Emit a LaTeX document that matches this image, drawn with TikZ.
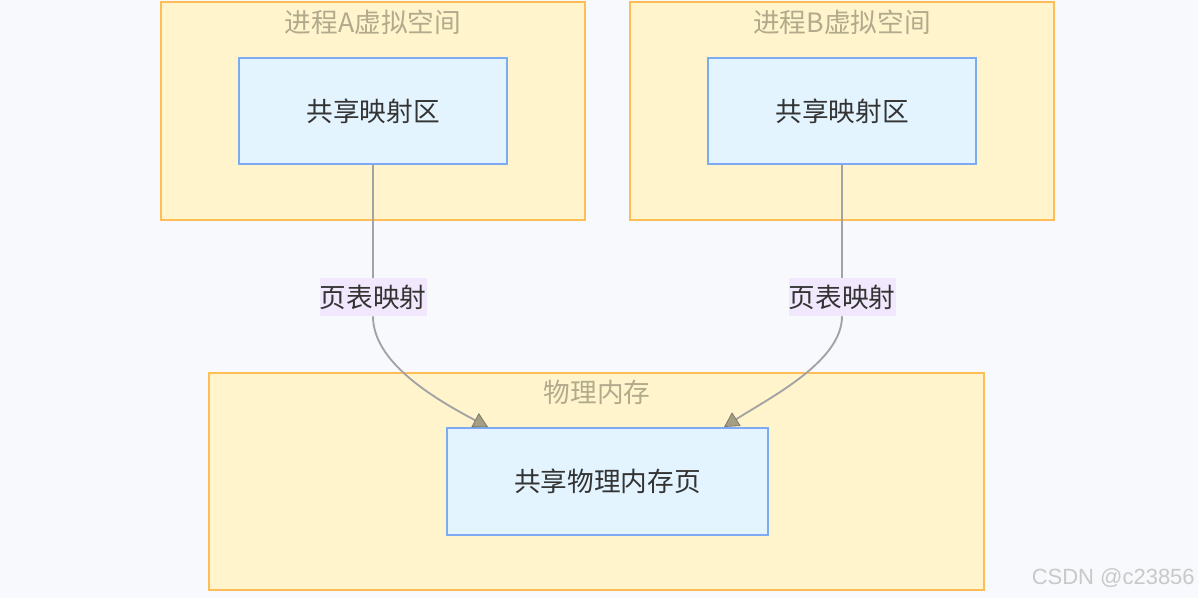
\documentclass[tikz,border=0pt]{standalone}
\usepackage{fontspec}
\setmainfont{Noto Sans CJK SC}
\newfontfamily\wmfont{Liberation Sans}
\usetikzlibrary{arrows.meta,calc}
\definecolor{bgc}{HTML}{F8F9FC}
\definecolor{clfill}{HTML}{FFF4CC}
\definecolor{cldraw}{HTML}{FFBE55}
\definecolor{boxfill}{HTML}{E3F4FF}
\definecolor{boxdraw}{HTML}{7DAAF2}
\definecolor{titlec}{HTML}{B2AA8C}
\definecolor{txtc}{HTML}{333333}
\definecolor{lblfill}{HTML}{F2E8FD}
\definecolor{edgec}{HTML}{A3A3A3}
\definecolor{tipc}{HTML}{A39E84}
\definecolor{tipd}{HTML}{7F7A66}
\definecolor{wmc}{HTML}{C9C9C9}
\tikzset{
  cluster/.style={draw=cldraw,fill=clfill,line width=1.5pt,rectangle,inner sep=0pt},
  cltitle/.style={text=titlec,font=\fontsize{20}{22}\selectfont,inner sep=0pt},
  box/.style={draw=boxdraw,fill=boxfill,line width=1.5pt,rectangle,inner sep=0pt,text=txtc,font=\fontsize{20}{22}\selectfont},
  lbl/.style={fill=lblfill,text=txtc,inner xsep=0pt,inner ysep=0pt,minimum width=107*0.75pt,minimum height=38*0.75pt,font=\fontsize{20}{22}\selectfont},
  edge/.style={draw=edgec,line width=1.4pt},
  tipped/.style={-{Triangle[length=11pt,width=12pt,color=tipd,fill=tipc,line width=0.6pt]}},
}
\begin{document}
\begin{tikzpicture}[x=0.75pt,y=-0.75pt]
\useasboundingbox (0,0) rectangle (1198,598);
\fill[bgc] (0,0) rectangle (1198,598);
% clusters
\node[cluster,minimum width=424*0.75pt,minimum height=218*0.75pt] (cA) at (373,111) {};
\node[cluster,minimum width=424*0.75pt,minimum height=218*0.75pt] (cB) at (842,111) {};
\node[cluster,minimum width=775*0.75pt,minimum height=217*0.75pt] (cP) at (596.5,481.5) {};
\node[cltitle] (tA) at (373,22) {进程A虚拟空间};
\node[cltitle] (tB) at (842,22) {进程B虚拟空间};
\node[cltitle] (tP) at (597,392) {物理内存};
% inner boxes
\node[box,minimum width=268*0.75pt,minimum height=106*0.75pt] (iA) at (373,111) {共享映射区};
\node[box,minimum width=268*0.75pt,minimum height=106*0.75pt] (iB) at (842,111) {共享映射区};
\node[box,minimum width=321*0.75pt,minimum height=107*0.75pt] (pm) at (607.5,481.5) {共享物理内存页};
% labels
\node[lbl] (lA) at (373,297) {页表映射};
\node[lbl] (lB) at (842,297) {页表映射};
% edges
\draw[edge] (iA.south) -- (lA.north);
\draw[edge,tipped] (lA.south) .. controls ($(lA.south)+(0,45)$) and ($(pm.north west)+(-15,-30)$) .. ($(pm.north west)+(42,0)$);
\draw[edge] (iB.south) -- (lB.north);
\draw[edge,tipped] (lB.south) .. controls ($(lB.south)+(0,45)$) and ($(pm.north west)+(325,-30)$) .. ($(pm.north west)+(278,0)$);
% watermark
\node[text=wmc,font=\wmfont\fontsize{16.5}{18}\selectfont,anchor=east,inner sep=0pt] (wm) at (1195,578) {CSDN @c23856};
\end{tikzpicture}
\end{document}
